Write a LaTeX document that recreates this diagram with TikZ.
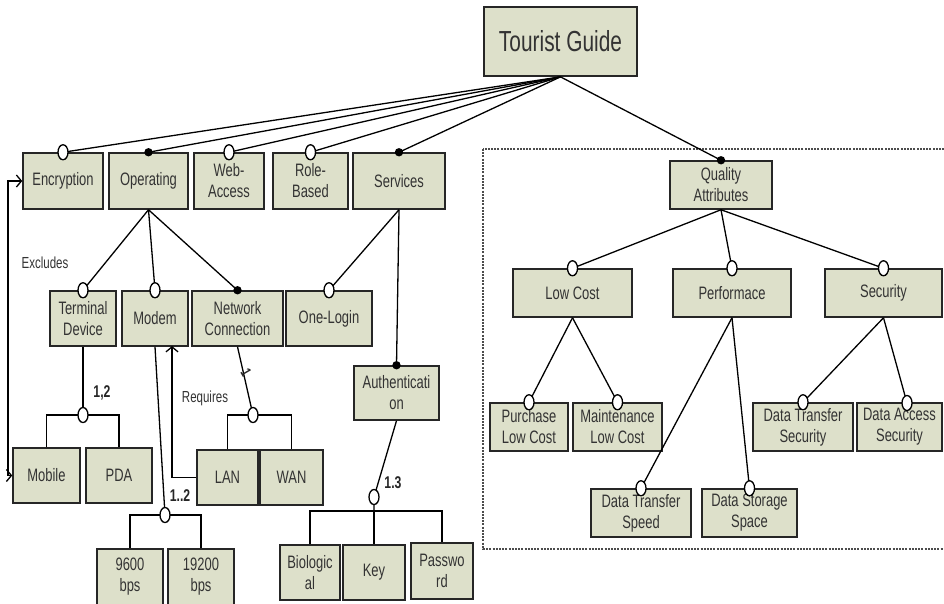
\documentclass[tikz,border=0pt]{standalone}
\usepackage{fontspec}
\setmainfont{Liberation Sans}[FakeStretch=0.72]
\usetikzlibrary{arrows.meta}
\definecolor{boxfill}{RGB}{221,224,202}
\newcommand\optmark[1]{\draw[line width=1.3pt, fill=white] (#1) ellipse [x radius=5, y radius=7.5];}
\newcommand\manmark[1]{\fill[black] (#1) circle [radius=4.2];}
\begin{document}
\begin{tikzpicture}[x=1pt,y=-1pt,
  box/.style={draw=black!85, line width=1.5pt, fill=boxfill, inner sep=0pt, align=center,
              font=\fontsize{18}{21}\selectfont, text=black!80},
  conn/.style={line width=1.3pt, draw=black},
  lbl/.style={inner sep=0pt, font=\fontsize{16}{18}\selectfont, text=black!80},
  card/.style={inner sep=0pt, font=\bfseries\fontsize{17}{19}\selectfont, text=black!85},
  barb/.tip={Straight Barb[length=5pt,width=12pt,line width=1.3pt]}]
\useasboundingbox (0,0) rectangle (944,603);

% dashed frame for quality attributes
\draw[dash pattern=on 2pt off 1.2pt, line width=1.3pt, black!70] (483,149) rectangle (952,549);

% nodes
\node[box, line width=1.7pt, minimum width=153, minimum height=69, font=\fontsize{29}{33}\selectfont] (root) at (560.5,41.5) {Tourist Guide};

\node[box, minimum width=80, minimum height=56] (enc)  at (63,181)    {Encryption};
\node[box, minimum width=79, minimum height=56] (op)   at (148.5,181) {Operating};
\node[box, minimum width=70, minimum height=56] (web)  at (229,181)   {Web-\\Access};
\node[box, minimum width=75, minimum height=56] (role) at (310.5,181) {Role-\\Based};
\node[box, minimum width=92, minimum height=56] (serv) at (399,181)   {Services};

\node[box, minimum width=66, minimum height=55] (term)  at (83,318.5)    {Terminal\\Device};
\node[box, minimum width=66, minimum height=55] (modem) at (155,318.5)   {Modem};
\node[box, minimum width=91, minimum height=55] (netc)  at (237.5,318.5) {Network\\Connection};
\node[box, minimum width=86, minimum height=55] (onel)  at (329,318.5)   {One-Login};
\node[box, minimum width=85, minimum height=54] (auth)  at (396.5,393)   {Authenticati\\on};

\node[box, minimum width=67, minimum height=55] (mobile) at (46.5,475.5)  {Mobile};
\node[box, minimum width=66, minimum height=55] (pda)    at (119,475.5)   {PDA};
\node[box, minimum width=61, minimum height=55] (lan)    at (227.5,477.5) {LAN};
\node[box, minimum width=63, minimum height=55] (wan)    at (291.5,477.5) {WAN};

\node[box, minimum width=66, minimum height=56] (b96)  at (130,577) {9600\\bps};
\node[box, minimum width=66, minimum height=56] (b192) at (201,577) {19200\\bps};

\node[box, minimum width=60, minimum height=55] (bio)  at (310,572.5) {Biologic\\al};
\node[box, minimum width=62, minimum height=55] (key)  at (374,572.5) {Key};
\node[box, minimum width=62, minimum height=56] (pass) at (442,571)   {Passwo\\rd};

\node[box, minimum width=102, minimum height=48] (qa)   at (721,185)   {Quality\\Attributes};
\node[box, minimum width=119, minimum height=48] (low)  at (572.5,293) {Low Cost};
\node[box, minimum width=118, minimum height=48] (perf) at (732,293)   {Performace};
\node[box, minimum width=117, minimum height=48] (sec)  at (883.5,293) {Security};

\node[box, minimum width=78,  minimum height=48] (purch) at (529,427)   {Purchase\\Low Cost};
\node[box, minimum width=89,  minimum height=48] (maint) at (617.5,427) {Maintenance\\Low Cost};
\node[box, minimum width=100, minimum height=48] (dts)   at (803,427)   {Data Transfer\\Security};
\node[box, minimum width=85,  minimum height=48] (das)   at (899.5,427) {Data Access\\Security};
\node[box, minimum width=100, minimum height=48] (dtsp)  at (641,513)   {Data Transfer\\Speed};
\node[box, minimum width=95,  minimum height=48] (dss)   at (749.5,513) {Data Storage\\Space};

% helper coordinates
\coordinate (dasTop) at (907,403);
\coordinate (g1) at (83,415);
\coordinate (g2) at (165,515);
\coordinate (g3) at (253,415);
\coordinate (c4) at (374,497);
\coordinate (g4) at (374,511);
\coordinate (rq) at (172,346);
\coordinate (ex) at (8,181);

% root connectors
\foreach \c in {enc,op,web,role,serv,qa} \draw[conn] (root.south) -- (\c.north);

% second level
\foreach \c in {term,modem,netc} \draw[conn] (op.south) -- (\c.north);
\draw[conn] (serv.south) -- (onel.north);
\draw[conn] (serv.south) -- (auth.north);
\foreach \c in {low,perf,sec} \draw[conn] (qa.south) -- (\c.north);
\draw[conn] (low.south) -- (purch.north);
\draw[conn] (low.south) -- (maint.north);
\draw[conn] (perf.south) -- (dtsp.north);
\draw[conn] (perf.south) -- (dss.north);
\draw[conn] (sec.south) -- (dts.north);
\draw[conn] (sec.south) -- (dasTop);

% groups
\draw[conn] (term.south) -- (g1);
\draw[conn] (mobile.north) |- (g1) -| (pda.north);
\draw[conn] (modem.south) -- (g2);
\draw[conn] (b96.north) |- (g2) -| (b192.north);
\draw[conn] (netc.south) -- (g3);
\draw[conn] (lan.north) |- (g3) -| (wan.north);
\draw[conn] (auth.south) -- (c4) -- (g4);
\draw[conn] (bio.north) |- (g4) -| (pass.north);
\draw[conn] (g4) -- (key.north);

% requires / excludes
\draw[conn, -barb] (lan.west) -| (rq);
\draw[conn, barb-barb] (mobile.west) -| (ex) -- (enc.west);

% markers
\optmark{enc.north} \manmark{op.north} \optmark{web.north} \optmark{role.north} \manmark{serv.north}
\optmark{term.north} \optmark{modem.north} \manmark{netc.north} \optmark{onel.north} \manmark{auth.north}
\manmark{qa.north} \optmark{low.north} \optmark{perf.north} \optmark{sec.north}
\optmark{purch.north} \optmark{maint.north} \optmark{dts.north} \optmark{dasTop}
\optmark{dtsp.north} \optmark{dss.north}
\optmark{g1} \optmark{g2} \optmark{g3} \optmark{c4}

% labels
\node[lbl] (lex) at (45,263) {Excludes};
\node[lbl] (lrq) at (205,398) {Requires};
\node[card] (k1) at (102,393) {1,2};
\node[card] (k2) at (180,496) {1..2};
\node[card] (k3) at (393,483) {1.3};
\node[card, rotate=-60, font=\bfseries\fontsize{15}{17}\selectfont] (k4) at (246,373) {1};
\end{tikzpicture}
\end{document}
